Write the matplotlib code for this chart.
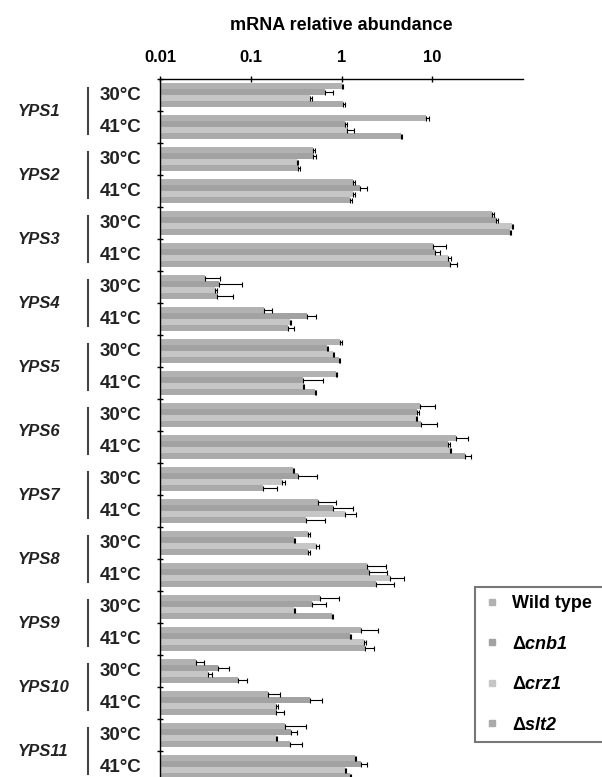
import matplotlib
matplotlib.use('Agg')
import matplotlib.pyplot as plt
import matplotlib.transforms as mtransforms
from matplotlib.lines import Line2D
from matplotlib.ticker import NullLocator
import numpy as np

plt.rcParams['font.family'] = ['Liberation Sans', 'DejaVu Sans']
plt.rcParams['mathtext.fontset'] = 'custom'
plt.rcParams['mathtext.rm'] = 'Liberation Sans:italic:bold'
plt.rcParams['mathtext.it'] = 'Liberation Sans:italic:bold'
plt.rcParams['mathtext.sf'] = 'Liberation Sans:bold'

W, H = 602, 777

genes = ['YPS1', 'YPS2', 'YPS3', 'YPS4', 'YPS5', 'YPS6',
         'YPS7', 'YPS8', 'YPS9', 'YPS10', 'YPS11']
temps = ['30°C', '41°C']
strains = ['Wild type', r'$\mathsf{\Delta}cnb1$', r'$\mathsf{\Delta}crz1$', r'$\mathsf{\Delta}slt2$']
colors = ['#b2b2b2', '#a2a2a2', '#c6c6c6', '#aaaaaa']

# values ordered gene by gene: 30°C, 41°C
wt = [1.0, 8.5, 0.49, 1.35, 46, 10.2, 0.031, 0.14, 0.97, 0.87, 7.3, 18.5,
      0.29, 0.55, 0.43, 1.9, 0.58, 1.66, 0.025, 0.156, 0.24, 1.4]
wt_err = [0.05, 0.6, 0.02, 0.05, 1.5, 4.0, 0.015, 0.03, 0.03, 0.03, 3.4, 6.4,
          0.01, 0.31, 0.02, 1.2, 0.36, 0.84, 0.0055, 0.054, 0.17, 0.04]
cnb1 = [0.66, 1.1, 0.49, 1.6, 51, 10.8, 0.045, 0.42, 0.70, 0.38, 6.8, 15.0,
        0.33, 0.81, 0.30, 2.0, 0.47, 1.24, 0.044, 0.45, 0.28, 1.66]
cnb1_err = [0.14, 0.05, 0.03, 0.3, 2.0, 1.5, 0.036, 0.1, 0.01, 0.24, 0.3, 0.5,
            0.21, 0.53, 0.01, 1.2, 0.21, 0.03, 0.014, 0.16, 0.04, 0.24]
crz1 = [0.45, 1.15, 0.32, 1.35, 75, 15.0, 0.040, 0.27, 0.80, 0.38, 6.6, 15.6,
        0.22, 1.09, 0.52, 3.4, 0.30, 1.75, 0.034, 0.19, 0.19, 1.1]
crz1_err = [0.02, 0.22, 0.01, 0.05, 3.0, 1.0, 0.003, 0.01, 0.02, 0.01, 0.2, 0.6,
            0.02, 0.35, 0.04, 1.5, 0.01, 0.1, 0.003, 0.01, 0.005, 0.02]
slt2 = [1.05, 4.5, 0.33, 1.25, 72, 15.8, 0.043, 0.26, 0.94, 0.51, 7.5, 22.9,
        0.137, 0.41, 0.43, 2.4, 0.78, 1.83, 0.073, 0.19, 0.27, 1.24]
slt2_err = [0.03, 0.2, 0.02, 0.04, 1.0, 2.8, 0.02, 0.04, 0.02, 0.02, 3.8, 3.9,
            0.06, 0.25, 0.02, 1.4, 0.02, 0.43, 0.017, 0.04, 0.1, 0.03]

series = [(wt, wt_err), (cnb1, cnb1_err), (crz1, crz1_err), (slt2, slt2_err)]

fig = plt.figure(figsize=(W / 100, H / 100), dpi=100)
ax = fig.add_axes([160 / W, 1 - 783 / H, 363 / W, 704 / H])

n = len(genes) * len(temps)
bar_h = 0.1875
for j, ((vals, errs), col) in enumerate(zip(series, colors)):
    y = np.arange(n) + 0.5 + (j - 1.5) * bar_h
    vals = np.array(vals)
    errs = np.array(errs)
    ax.barh(y, vals - 1e-4, left=1e-4, height=bar_h, color=col, edgecolor='none')
    ax.errorbar(vals, y, xerr=[np.zeros(n), errs], fmt='none', ecolor='black',
                elinewidth=0.8, capsize=1.8, capthick=0.8)

ax.set_xscale('log')
ax.set_xlim(0.01, 100)
ax.set_ylim(n, 0)
ax.xaxis.tick_top()
ax.set_xticks([0.01, 0.1, 1, 10])
ax.set_xticklabels(['0.01', '0.1', '1', '10'], fontsize=12, fontweight='bold')
ax.xaxis.set_minor_locator(NullLocator())
ax.tick_params(axis='x', direction='inout', length=5, width=1, pad=7.5)
ax.set_yticks(np.arange(n + 1))
ax.set_yticklabels([])
ax.tick_params(axis='y', direction='inout', length=4, width=1)
for s in ['right', 'bottom']:
    ax.spines[s].set_visible(False)
for s in ['top', 'left']:
    ax.spines[s].set_linewidth(1)

fig.text(341.5 / W, 1 - 25 / H, 'mRNA relative abundance', ha='center', va='center',
         fontsize=13, fontweight='bold')

trans = mtransforms.blended_transform_factory(fig.transFigure, ax.transData)
for g, gene in enumerate(genes):
    ax.text(18 / W, 2 * g + 1, gene, transform=trans, ha='left', va='center',
            fontsize=12, fontweight='bold', fontstyle='italic', color='#222222')
    fig.add_artist(Line2D([88 / W, 88 / W], [2 * g + 0.28, 2 * g + 1.72],
                          transform=trans, color='#444444', lw=1.5))
    for t, temp in enumerate(temps):
        ax.text(100 / W, 2 * g + t + 0.5, temp, transform=trans, ha='left',
                va='center', fontsize=13.5, fontweight='bold', color='#222222')

handles = [Line2D([], [], marker='s', linestyle='none', markersize=5,
                  color=c) for c in colors]
leg = fig.legend(handles, strains, loc='upper left', mode='expand',
                 bbox_to_anchor=(475 / W, 1 - 587 / H, 170 / W, 0.0),
                 bbox_transform=fig.transFigure,
                 borderaxespad=0, fancybox=False, framealpha=1,
                 prop={'size': 13, 'weight': 'bold'}, labelspacing=1.3,
                 borderpad=0.45, handlelength=1.0, handletextpad=0.6)
leg.get_frame().set_edgecolor('#777777')
leg.get_frame().set_linewidth(1.5)

fig.savefig('out.png', dpi=100)
